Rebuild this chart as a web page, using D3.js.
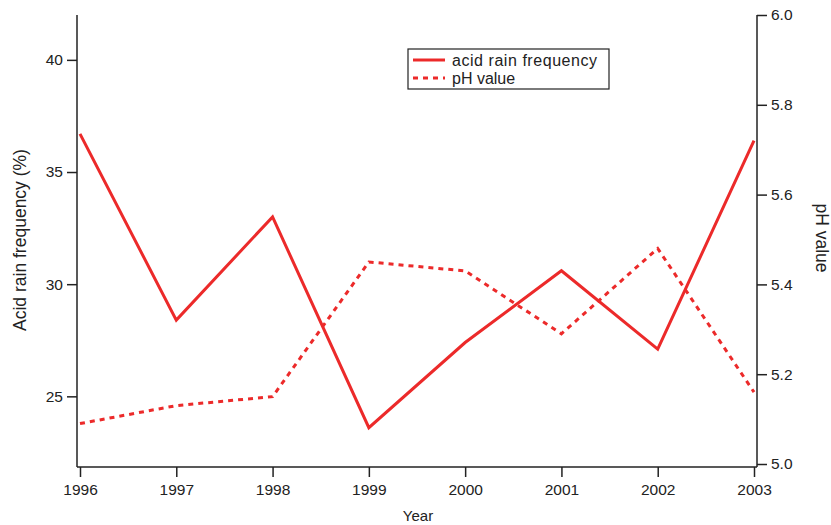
<!DOCTYPE html>
<html>
<head>
<meta charset="utf-8">
<script src="https://cdn.jsdelivr.net/npm/d3@7"></script>
<style>
  body { margin: 0; background: #fff; }
  svg text { font-family: "Liberation Sans", Arial, sans-serif; fill: #222; }
</style>
</head>
<body>
<svg width="831" height="525"></svg>
<script>
var years = [1996, 1997, 1998, 1999, 2000, 2001, 2002, 2003];
var frequency = [36.7, 28.4, 33.0, 23.6, 27.4, 30.6, 27.1, 36.4];
var phValue = [5.09, 5.13, 5.15, 5.45, 5.43, 5.29, 5.48, 5.16];
var freqTicks = [25, 30, 35, 40];
var phTicks = [5.0, 5.2, 5.4, 5.6, 5.8, 6.0];

var svg = d3.select('svg'),
    red = '#ec2a2a',
    axisColor = '#222';

var x = d3.scaleLinear().domain([1996, 2003]).range([80, 754]);
var yLeft = d3.scaleLinear().domain([21.85, 42]).range([467, 15]);
var yRight = d3.scaleLinear().domain([5.0, 6.0]).range([464, 15]);

// axes
var xAxis = svg.append('g')
    .attr('transform', 'translate(0,467)')
    .call(d3.axisBottom(x).tickValues(years).tickFormat(d3.format('d')).tickSize(10).tickPadding(7));
xAxis.select('.domain').attr('d', 'M77,0H757');

var leftAxis = svg.append('g')
    .attr('transform', 'translate(77,0)')
    .call(d3.axisLeft(yLeft).tickValues(freqTicks).tickSize(10).tickPadding(4));
leftAxis.select('.domain').attr('d', 'M0,15V467');

var rightAxis = svg.append('g')
    .attr('transform', 'translate(757,0)')
    .call(d3.axisRight(yRight).tickValues(phTicks).tickFormat(d3.format('.1f')).tickSize(10).tickPadding(4));
rightAxis.select('.domain').attr('d', 'M0,15V467');

svg.selectAll('.domain, .tick line')
    .attr('stroke', axisColor)
    .attr('stroke-width', 1.5);
svg.selectAll('.tick text')
    .attr('font-size', 15.5)
    .attr('fill', axisColor)
    .style('font-family', '"Liberation Sans", Arial, sans-serif');

// axis titles
svg.append('text')
    .attr('x', 418).attr('y', 521)
    .attr('text-anchor', 'middle')
    .attr('font-size', 15)
    .text('Year');

svg.append('text')
    .attr('transform', 'translate(26,240) rotate(-90)')
    .attr('text-anchor', 'middle')
    .attr('font-size', 17.5)
    .text('Acid rain frequency (%)');

svg.append('text')
    .attr('transform', 'translate(816,238) rotate(90)')
    .attr('text-anchor', 'middle')
    .attr('font-size', 17.5)
    .text('pH value');

// lines
var freqLine = d3.line()
    .x(function(d, i) { return x(years[i]); })
    .y(function(d) { return yLeft(d); });

var phLine = d3.line()
    .x(function(d, i) { return x(years[i]); })
    .y(function(d) { return yRight(d); });

svg.append('path')
    .datum(frequency)
    .attr('d', freqLine)
    .attr('fill', 'none')
    .attr('stroke', red)
    .attr('stroke-width', 3);

svg.append('path')
    .datum(phValue)
    .attr('d', phLine)
    .attr('fill', 'none')
    .attr('stroke', red)
    .attr('stroke-width', 3)
    .attr('stroke-dasharray', '5,5');

// legend
var legend = svg.append('g');
legend.append('rect')
    .attr('x', 408).attr('y', 49)
    .attr('width', 201).attr('height', 40)
    .attr('fill', '#fff')
    .attr('stroke', axisColor)
    .attr('stroke-width', 1.2);

var legendItems = [
    { label: 'acid rain frequency', dash: null, y: 60 },
    { label: 'pH value', dash: '5,5', y: 78 }
];
legendItems.forEach(function(item) {
    legend.append('line')
        .attr('x1', 413).attr('x2', 445)
        .attr('y1', item.y).attr('y2', item.y)
        .attr('stroke', red)
        .attr('stroke-width', 3)
        .attr('stroke-dasharray', item.dash);
    legend.append('text')
        .attr('x', 452).attr('y', item.y + 5.5)
        .attr('font-size', 16)
        .attr('textLength', item.label.length > 10 ? 145 : null)
        .text(item.label);
});
</script>
</body>
</html>
